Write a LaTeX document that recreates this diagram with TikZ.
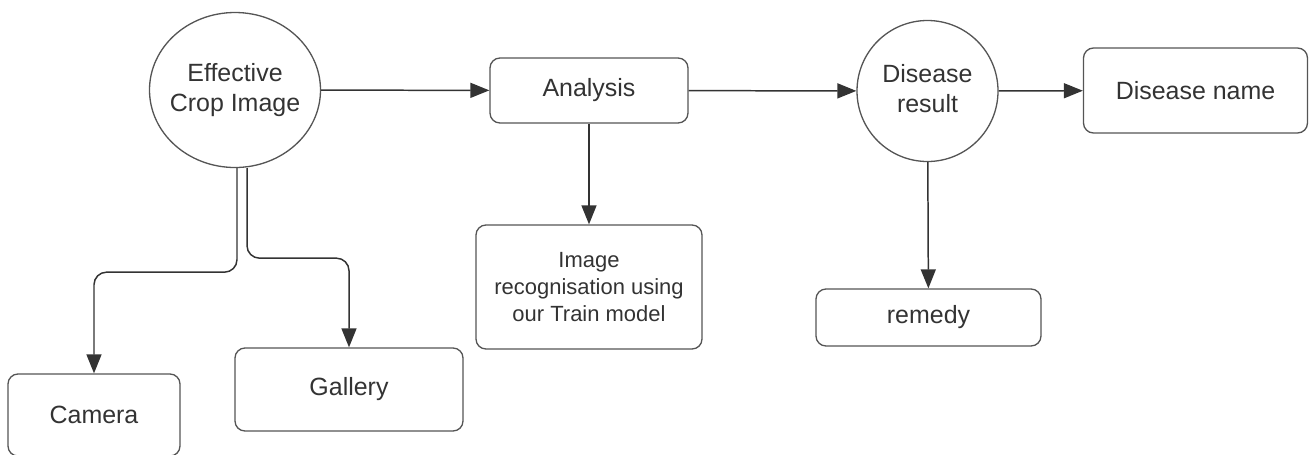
\documentclass[tikz,border=0pt]{standalone}
\usepackage{fontspec}
\setmainfont{Liberation Sans}
\usetikzlibrary{arrows.meta,shapes.geometric}
\definecolor{ink}{HTML}{333333}
\definecolor{rim}{HTML}{555555}
\begin{document}
\begin{tikzpicture}[
    box/.style={draw=rim, line width=0.75pt, rounded corners=0.2cm, inner sep=0pt, text=ink, align=center, font=\fontsize{14.2}{17}\selectfont},
    bubble/.style={draw=rim, line width=0.75pt, inner sep=0pt},
    caption/.style={text=ink, align=center, inner sep=0pt, font=\fontsize{14.2}{17}\selectfont},
    flow/.style={draw=ink, line width=0.85pt, -{Triangle[length=0.38cm, width=0.3cm]}}
]
    \useasboundingbox (0, 0) rectangle (26.18, -9.08);
    \node[bubble, ellipse, minimum width=3.42cm, minimum height=3.10cm] (eff) at (4.70, -1.80) {};
    \node[caption] (effname) at (eff) {Effective\\Crop Image};
    \node[box, minimum width=3.96cm, minimum height=1.30cm] (analysis) at (11.78, -1.81) {Analysis};
    \node[bubble, circle, minimum size=2.82cm] (disres) at (18.55, -1.82) {};
    \node[caption] (disresname) at ([yshift=0.05cm]disres) {Disease\\result};
    \node[box, minimum width=4.48cm, minimum height=1.70cm] (disname) at (23.91, -1.81) {Disease name};
    \node[box, minimum width=4.52cm, minimum height=2.48cm, font=\fontsize{12.5}{15.4}\selectfont] (imgrec) at (11.78, -5.74) {Image\\recognisation using\\our Train model};
    \node[box, minimum width=4.50cm, minimum height=1.14cm] (remedy) at (18.57, -6.35) {remedy};
    \node[box, minimum width=4.56cm, minimum height=1.66cm] (gallery) at (6.98, -7.79) {Gallery};
    \node[box, minimum width=3.44cm, minimum height=1.64cm] (camera) at (1.88, -8.30) {Camera};
    \draw[flow] (eff) -- (analysis);
    \draw[flow] (analysis) -- (disres);
    \draw[flow] (disres) -- (disname);
    \draw[flow] (analysis) -- (imgrec);
    \draw[flow] (disres) -- (remedy);
    \draw[flow, rounded corners=0.25cm] ([xshift=0.04cm]eff.south) -- ++(0, -2.08) -| (camera.north);
    \draw[flow, rounded corners=0.25cm] ([xshift=0.24cm]eff.south) -- ++(0, -1.80) -| (gallery.north);
\end{tikzpicture}
\end{document}
